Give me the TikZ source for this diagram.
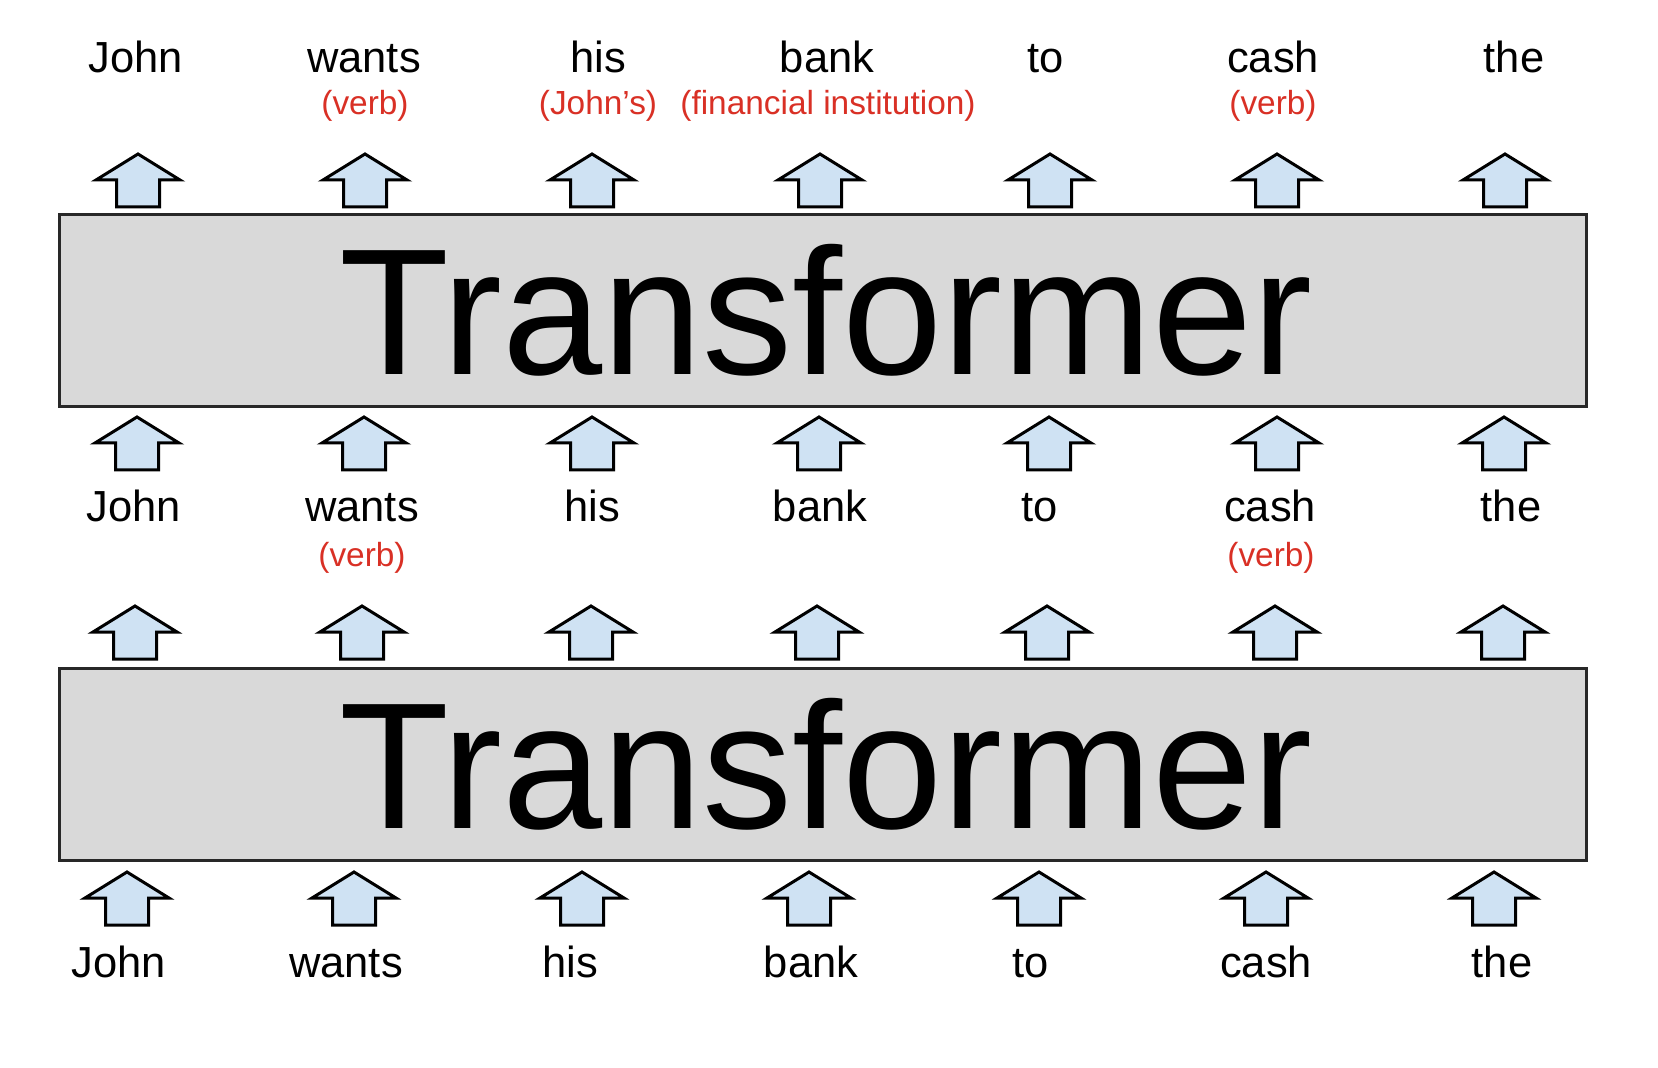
\documentclass[tikz,border=0pt]{standalone}
\usepackage{fontspec}
\setmainfont{Liberation Sans}
\definecolor{redlbl}{RGB}{217,48,37}
\definecolor{arrfill}{RGB}{207,226,243}
\definecolor{boxfill}{RGB}{217,217,217}
\definecolor{boxline}{RGB}{40,40,40}
\tikzset{
  word/.style={font=\fontsize{21.75}{26}\selectfont, anchor=base, inner sep=0pt},
  redword/.style={font=\fontsize{16.7}{20}\selectfont, text=redlbl, anchor=base, inner sep=0pt},
  bigword/.style={font=\fontsize{90}{100}\selectfont, anchor=base, inner sep=0pt},
  tbox/.style={draw=boxline, fill=boxfill, line width=1.5pt, minimum width=763.5pt, minimum height=96pt, inner sep=0pt},
  arrline/.style={draw=black, fill=arrfill, line width=1.5pt, line join=miter},
  uparrow/.pic={\path[arrline] (0,0) -- (42,26) -- (21.5,26) -- (21.5,53) -- (-21.5,53) -- (-21.5,26) -- (-42,26) -- cycle;}
}
\begin{document}
\begin{tikzpicture}[x=0.5pt,y=-0.5pt]
\useasboundingbox[fill=white] (0,0) rectangle (1658,1068);
% top words
\foreach \x/\w/\n in {136/John/1,364/wants/2,598/his/3,827/bank/4,1046/to/5,1273/cash/6,1514/the/7}
  \node[word] (tw\n) at (\x,73) {\w};
\node[redword] (tr2) at (365,115) {(verb)};
\node[redword] (tr3) at (598,115) {(John’s)};
\node[redword] (tr4) at (828,115) {(financial institution)};
\node[redword] (tr6) at (1273,115) {(verb)};
% row B arrows
\foreach \x in {138,365,592,820,1050,1277,1505}
  \pic at (\x,154) {uparrow};
% box 1
\node[tbox] (box1) at (822.5,311) {};
\node[bigword] (t1) at (826,375) {Transformer};
% row C arrows
\foreach \x in {137,364,592,819,1049,1277,1504}
  \pic at (\x,417) {uparrow};
% middle words
\foreach \x/\w/\n in {134/John/1,362/wants/2,592/his/3,820/bank/4,1040/to/5,1270/cash/6,1511/the/7}
  \node[word] (mw\n) at (\x,522) {\w};
\node[redword] (mr2) at (362,567) {(verb)};
\node[redword] (mr6) at (1271,567) {(verb)};
% row D arrows
\foreach \x in {135,362,591,817,1047,1275,1503}
  \pic at (\x,606) {uparrow};
% box 2
\node[tbox] (box2) at (822.5,764.5) {};
\node[bigword] (t2) at (826,828) {Transformer};
% row E arrows
\foreach \x in {127,354,582,809,1039,1266,1494}
  \pic at (\x,872) {uparrow};
% bottom words
\foreach \x/\w/\n in {119/John/1,346/wants/2,570/his/3,811/bank/4,1031/to/5,1266/cash/6,1502/the/7}
  \node[word] (bw\n) at (\x,977) {\w};
\end{tikzpicture}
\end{document}
